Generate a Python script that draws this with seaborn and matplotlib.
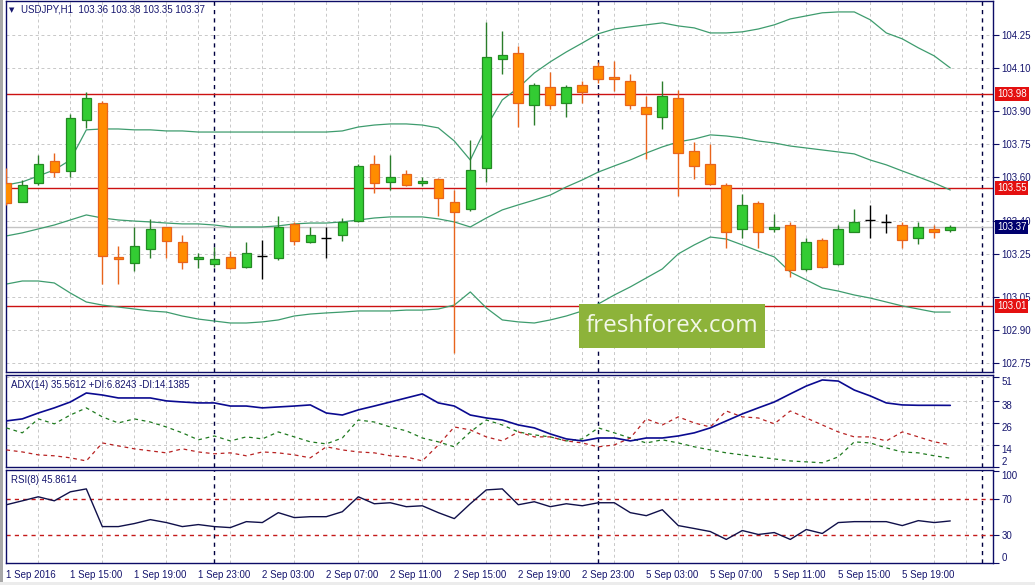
import numpy as np
import pandas as pd
import seaborn as sns
import matplotlib.pyplot as plt
import matplotlib.transforms as mtrans
from matplotlib.patches import Rectangle

# USDJPY H1, 1 Sep 11:00 .. 5 Sep 22:00 (60 bars)
open_ = [103.573, 103.487, 103.574, 103.674, 103.628, 103.862, 103.939, 103.235, 103.208, 103.272,
         103.372, 103.304, 103.226, 103.203, 103.235, 103.190, 103.240, 103.231, 103.386, 103.304,
         103.322, 103.336, 103.400, 103.660, 103.578, 103.615, 103.574, 103.592, 103.487, 103.455,
         103.642, 104.140, 104.168, 103.930, 104.012, 103.939, 104.021, 104.108, 104.058, 104.040,
         103.921, 103.875, 103.962, 103.720, 103.660, 103.564, 103.363, 103.482, 103.363, 103.381,
         103.180, 103.313, 103.203, 103.349, 103.404, 103.395, 103.381, 103.322, 103.363, 103.360]
high = [103.642, 103.587, 103.702, 103.711, 103.889, 103.990, 103.948, 103.286, 103.372, 103.409,
        103.372, 103.336, 103.253, 103.281, 103.263, 103.304, 103.313, 103.423, 103.395, 103.372,
        103.372, 103.413, 103.660, 103.702, 103.702, 103.633, 103.601, 103.596, 103.541, 103.770,
        104.309, 104.268, 104.200, 104.031, 104.081, 104.021, 104.040, 104.127, 104.131, 104.072,
        103.971, 104.040, 103.999, 103.761, 103.752, 103.573, 103.523, 103.491, 103.432, 103.395,
        103.322, 103.322, 103.381, 103.454, 103.473, 103.432, 103.395, 103.395, 103.381, 103.380]
low = [103.473, 103.487, 103.564, 103.601, 103.601, 103.825, 103.112, 103.112, 103.171, 103.231,
       103.231, 103.180, 103.185, 103.190, 103.180, 103.185, 103.135, 103.222, 103.290, 103.299,
       103.231, 103.308, 103.395, 103.528, 103.541, 103.560, 103.560, 103.423, 102.796, 103.446,
       103.578, 104.072, 103.830, 103.839, 103.912, 103.875, 103.939, 104.031, 103.994, 103.912,
       103.683, 103.820, 103.514, 103.592, 103.564, 103.276, 103.322, 103.276, 103.349, 103.143,
       103.171, 103.185, 103.198, 103.349, 103.322, 103.345, 103.276, 103.295, 103.322, 103.350]
close = [103.482, 103.564, 103.660, 103.624, 103.871, 103.962, 103.240, 103.226, 103.286, 103.363,
         103.308, 103.213, 103.235, 103.226, 103.185, 103.253, 103.240, 103.372, 103.308, 103.336,
         103.322, 103.395, 103.651, 103.574, 103.601, 103.564, 103.583, 103.505, 103.441, 103.633,
         104.149, 104.159, 103.939, 104.021, 103.930, 104.012, 103.990, 104.049, 104.049, 103.930,
         103.889, 103.971, 103.711, 103.651, 103.569, 103.349, 103.473, 103.349, 103.372, 103.175,
         103.304, 103.190, 103.363, 103.395, 103.404, 103.395, 103.313, 103.372, 103.349, 103.370]

bb_upper = [103.564, 103.578, 103.605, 103.633, 103.678, 103.816, 103.820, 103.820, 103.816, 103.816,
            103.811, 103.811, 103.806, 103.806, 103.806, 103.806, 103.806, 103.806, 103.806, 103.806,
            103.806, 103.811, 103.829, 103.838, 103.843, 103.843, 103.838, 103.825, 103.765, 103.678,
            103.829, 103.953, 104.008, 104.076, 104.127, 104.172, 104.213, 104.255, 104.277, 104.287,
            104.296, 104.305, 104.291, 104.282, 104.259, 104.259, 104.264, 104.277, 104.296, 104.323,
            104.337, 104.351, 104.355, 104.355, 104.319, 104.259, 104.232, 104.191, 104.154, 104.099]
bb_middle = [103.331, 103.345, 103.363, 103.381, 103.404, 103.427, 103.413, 103.404, 103.399, 103.395,
             103.390, 103.386, 103.386, 103.381, 103.372, 103.372, 103.372, 103.377, 103.386, 103.390,
             103.390, 103.395, 103.404, 103.413, 103.418, 103.418, 103.418, 103.409, 103.395, 103.372,
             103.413, 103.450, 103.473, 103.495, 103.518, 103.555, 103.587, 103.623, 103.651, 103.678,
             103.710, 103.738, 103.761, 103.774, 103.793, 103.788, 103.779, 103.765, 103.756, 103.742,
             103.733, 103.724, 103.715, 103.706, 103.678, 103.656, 103.628, 103.601, 103.573, 103.541]
bb_lower = [103.111, 103.125, 103.125, 103.116, 103.070, 103.029, 103.015, 103.006, 102.997, 102.988,
            102.983, 102.965, 102.951, 102.942, 102.933, 102.933, 102.938, 102.947, 102.965, 102.974,
            102.979, 102.983, 102.988, 102.988, 102.988, 102.992, 102.992, 102.997, 103.015, 103.075,
            103.002, 102.947, 102.938, 102.933, 102.947, 102.965, 102.988, 103.020, 103.061, 103.098,
            103.139, 103.180, 103.249, 103.290, 103.326, 103.317, 103.290, 103.262, 103.235, 103.166,
            103.130, 103.093, 103.079, 103.061, 103.047, 103.029, 103.011, 102.997, 102.983, 102.983]

adx = [27.1, 28.2, 31.4, 34.2, 37.4, 42.3, 41.2, 39.6, 39.6, 39.6,
       38.0, 37.4, 36.9, 36.9, 35.2, 35.2, 34.2, 34.7, 35.2, 35.8,
       31.4, 30.3, 33.1, 35.2, 37.4, 39.6, 41.8, 36.9, 35.2, 30.3,
       28.7, 27.6, 24.9, 23.3, 20.0, 17.3, 16.2, 17.8, 17.8, 16.2,
       17.8, 17.8, 18.9, 20.6, 23.3, 27.1, 30.9, 34.2, 37.4, 41.8,
       46.1, 49.4, 48.8, 43.9, 40.7, 36.9, 35.8, 35.6, 35.6, 35.56]
plus_di = [23.3, 20.6, 28.2, 25.5, 30.3, 34.2, 29.3, 26.0, 28.2, 26.5,
           23.8, 20.6, 16.8, 18.9, 16.2, 18.4, 17.3, 21.1, 18.4, 15.7,
           14.6, 17.8, 27.6, 26.5, 23.8, 21.7, 17.8, 15.7, 13.0, 21.1,
           27.6, 24.9, 21.1, 19.5, 18.4, 16.2, 17.3, 23.3, 20.6, 17.8,
           15.1, 16.8, 15.1, 13.0, 11.3, 9.7, 8.6, 7.5, 6.4, 5.3,
           4.8, 4.3, 7.5, 15.7, 15.1, 12.4, 10.2, 9.7, 8.1, 6.82]
minus_di = [11.3, 10.2, 8.6, 8.1, 7.0, 5.3, 15.1, 13.5, 11.9, 10.8,
            9.7, 11.9, 10.2, 9.2, 9.7, 8.1, 10.2, 9.7, 8.6, 7.0,
            13.0, 11.3, 10.2, 9.7, 8.1, 7.5, 5.3, 14.0, 23.8, 22.2,
            18.4, 16.2, 21.1, 18.4, 18.4, 16.2, 15.1, 13.0, 14.0, 17.8,
            28.2, 24.9, 29.3, 26.0, 23.8, 32.5, 29.3, 28.7, 25.5, 32.5,
            28.7, 24.9, 21.1, 18.4, 18.4, 16.2, 21.1, 18.4, 15.7, 14.14]
rsi = [63.5, 67.8, 72.2, 67.8, 77.6, 80.8, 39.7, 39.7, 43.0, 47.3,
       44.1, 39.7, 41.9, 39.7, 38.6, 45.1, 44.1, 54.9, 49.5, 50.5,
       50.5, 55.9, 72.2, 64.6, 65.7, 61.4, 62.4, 54.9, 48.4, 64.6,
       79.7, 80.8, 63.5, 66.8, 61.4, 64.6, 62.4, 65.7, 65.7, 54.9,
       51.6, 58.1, 40.8, 37.6, 34.3, 25.7, 35.4, 31.1, 33.2, 25.7,
       36.5, 32.2, 44.1, 45.1, 45.1, 45.1, 40.8, 46.2, 44.1, 45.86]

levels = [103.98, 103.55, 103.01]
bid = 103.37
price_ticks = [104.25, 104.10, 103.90, 103.75, 103.60, 103.40, 103.25, 103.05, 102.90, 102.75]
adx_ticks = [51, 38, 26, 14, 2]
rsi_ticks = [100, 70, 30, 0]
rsi_levels = [70, 30]
time_labels = ["1 Sep 2016", "1 Sep 15:00", "1 Sep 19:00", "1 Sep 23:00", "2 Sep 03:00",
               "2 Sep 07:00", "2 Sep 11:00", "2 Sep 15:00", "2 Sep 19:00", "2 Sep 23:00",
               "5 Sep 03:00", "5 Sep 07:00", "5 Sep 11:00", "5 Sep 15:00", "5 Sep 19:00"]
day_starts = [13, 37, 61]

sns.set_style("white")
plt.rcParams['font.family'] = ['Liberation Sans', 'DejaVu Sans']

NAVY = '#0c0c66'
TXT = '#16166e'
GRID = '#c8c8c8'
BB = '#3e9c6e'
W, H = 1035, 585

df = pd.DataFrame({"o": open_, "h": high, "l": low, "c": close})
df["x"] = np.arange(len(df))
bull = df[df.c > df.o]
bear = df[df.c < df.o]
doji = df[df.c == df.o]

fig = plt.figure(figsize=(W / 100, H / 100), dpi=100)
fig.set_tight_layout(False)


def panel(top, bottom):
    return fig.add_axes([6 / W, 1 - bottom / H, 987 / W, (bottom - top) / H])


ax = panel(1, 372)
ax_adx = panel(375, 467)
ax_rsi = panel(470, 563)

for a in (ax, ax_adx, ax_rsi):
    a.set_xlim(-0.02, 61.67)
    a.set_xticks(np.arange(0, 62, 2))
    a.tick_params(axis='x', length=0, labelbottom=False)
    a.yaxis.tick_right()
    a.tick_params(axis='y', direction='out', length=4, width=0.8, color=NAVY,
                  labelsize=7, labelcolor=TXT, pad=2)
    for s in a.spines.values():
        s.set_color(NAVY)
        s.set_linewidth(1)
    a.grid(True, axis='x', color=GRID, ls=(0, (3, 3)), lw=0.7)
    for d in day_starts:
        a.axvline(d, color='#000040', ls=(0, (3, 3)), lw=1, zorder=1)

# ---- price panel
ax.set_ylim(102.709, 104.405)
ax.set_yticks(price_ticks)
ax.set_yticklabels([f"{v:.2f}" for v in price_ticks])
ax.grid(True, axis='y', color=GRID, ls=(0, (3, 3)), lw=0.7)
ax.axhline(bid, color='#c4c4c4', lw=1, zorder=1)
for lv in levels:
    ax.axhline(lv, color='#cc1111', lw=1, zorder=2)

for band in (bb_upper, bb_middle, bb_lower):
    sns.lineplot(x=df.x, y=band, ax=ax, color=BB, lw=0.9, legend=False, zorder=2)

ax.vlines(bull.x, bull.l, bull.h, color='#2a7d2a', lw=1, zorder=3)
ax.vlines(bear.x, bear.l, bear.h, color='#e8641c', lw=1, zorder=3)
ax.bar(bull.x, bull.c - bull.o, bottom=bull.o, width=0.6, color='#33cc33',
       edgecolor='#238a23', lw=0.9, zorder=4)
ax.bar(bear.x, bear.o - bear.c, bottom=bear.c, width=0.6, color='#ff8c00',
       edgecolor='#e8641c', lw=0.9, zorder=4)
ax.vlines(doji.x, doji.l, doji.h, color='black', lw=1, zorder=4)
ax.hlines(doji.c, doji.x - 0.32, doji.x + 0.32, color='black', lw=1, zorder=4)
ax.set_xlabel("")
ax.set_ylabel("")

ytr = mtrans.blended_transform_factory(ax.transAxes, ax.transData)
for lv in levels:
    ax.text(1.004, lv, f"{lv:.2f}", transform=ytr, ha='left', va='center', fontsize=7,
            color='white', zorder=6,
            bbox=dict(boxstyle='square,pad=0.2', fc='#e41010', ec='none'))
ax.text(1.004, bid, f"{bid:.2f}", transform=ytr, ha='left', va='center', fontsize=7,
        color='white', zorder=6,
        bbox=dict(boxstyle='square,pad=0.2', fc='#00006e', ec='none'))

# ---- ADX panel
ax_adx.set_ylim(2, 52.1)
ax_adx.set_yticks(adx_ticks)
ax_adx.set_yticklabels([str(v) for v in adx_ticks])
for i, lab in enumerate(ax_adx.get_yticklabels()):
    lab.set_va('bottom' if i == len(adx_ticks) - 1 else 'top')
ax_adx.grid(True, axis='y', color=GRID, ls=(0, (3, 3)), lw=0.7)
sns.lineplot(x=df.x, y=adx, ax=ax_adx, color='#0a0a90', lw=1.2, legend=False, zorder=4)
sns.lineplot(x=df.x, y=plus_di, ax=ax_adx, color='#1f7a1f', lw=0.9,
             linestyle=(0, (3, 3)), legend=False, zorder=3)
sns.lineplot(x=df.x, y=minus_di, ax=ax_adx, color='#b82222', lw=0.9,
             linestyle=(0, (3, 3)), legend=False, zorder=3)
ax_adx.set_xlabel("")
ax_adx.set_ylabel("")

# ---- RSI panel
ax_rsi.set_ylim(0, 101.4)
ax_rsi.set_yticks(rsi_ticks)
ax_rsi.set_yticklabels([str(v) for v in rsi_ticks])
labs = ax_rsi.get_yticklabels()
labs[0].set_va('top')
labs[-1].set_va('bottom')
for lv in rsi_levels:
    ax_rsi.axhline(lv, color='#c41a1a', ls=(0, (3, 3)), lw=1, zorder=2)
sns.lineplot(x=df.x, y=rsi, ax=ax_rsi, color='#10104a', lw=1, legend=False, zorder=4)
ax_rsi.set_xlabel("")
ax_rsi.set_ylabel("")
ax_rsi.set_xticks(np.arange(0, 60, 4))
ax_rsi.set_xticklabels(time_labels, ha='left')
ax_rsi.set_xticks(np.arange(0, 62, 2), minor=True)
ax_rsi.grid(False, which='major', axis='x')
ax_rsi.grid(True, which='minor', axis='x', color=GRID, ls=(0, (3, 3)), lw=0.7)
ax_rsi.tick_params(axis='x', which='major', length=4, width=0.8, color=NAVY, direction='out',
                   labelbottom=True, labelsize=7, labelcolor=TXT, pad=1)
ax_rsi.tick_params(axis='x', which='minor', length=0)

# ---- headers
fig.text(12 / W, 1 - 10 / H, "\u25bc", family='DejaVu Sans', fontsize=5, color=TXT,
         ha='center', va='center')
fig.text(21 / W, 1 - 10 / H, "USDJPY,H1  103.36 103.38 103.35 103.37", fontsize=7,
         color=TXT, ha='left', va='center')
fig.text(11 / W, 1 - 385 / H, "ADX(14) 35.5612 +DI:6.8243 -DI:14.1385", fontsize=7,
         color=TXT, ha='left', va='center')
fig.text(11 / W, 1 - 480 / H, "RSI(8) 45.8614", fontsize=7, color=TXT, ha='left', va='center')

# ---- watermark and window edges
fig.patches.append(Rectangle((579 / W, 1 - 348 / H), 186 / W, 44 / H, transform=fig.transFigure,
                             fc='#8db33a', ec='none', zorder=5))
fig.text(672 / W, 1 - 326 / H, "freshforex.com", family=['Open Sans', 'DejaVu Sans'],
         fontsize=17.5, color='#f3f7e8', ha='center', va='center', zorder=6)
fig.patches.append(Rectangle((0, 0), 3 / W, 1, transform=fig.transFigure,
                             fc='#a8a8a8', ec='none', zorder=5))
fig.patches.append(Rectangle((0, 0), 1, 3 / H, transform=fig.transFigure,
                             fc='#ececec', ec='none', zorder=5))

fig.savefig("out.png", dpi=100)
plt.close()
